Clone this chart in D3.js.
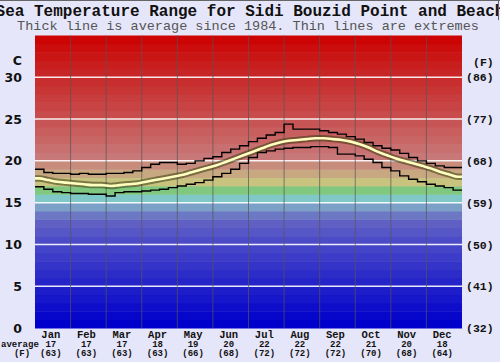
<!DOCTYPE html>
<html><head><meta charset="utf-8">
<script src="https://cdn.jsdelivr.net/npm/d3@7/dist/d3.min.js"></script>
<style>html,body{margin:0;padding:0;background:#e6e6fa;}svg{display:block}</style>
</head><body>
<svg id="chart" width="500" height="362"></svg>
<script>
const titleText = "Sea Temperature Range for Sidi Bouzid Point and Beach";
const subtitleText = "Thick line is average since 1984. Thin lines are extremes";
const months = ["Jan","Feb","Mar","Apr","May","Jun","Jul","Aug","Sep","Oct","Nov","Dec"];
const monthAvgC = [17,17,17,18,19,20,22,22,22,21,20,18];
const monthAvgF = [63,63,63,63,66,68,72,72,72,70,68,64];
const yTicksC = [0,5,10,15,20,25,30];
const yTicksF = [32,41,50,59,68,77,86];
// four values per month (quarter-month steps), degrees C
const maxT = [19.0,18.6,18.5,18.5, 18.4,18.5,18.4,18.4, 18.5,18.5,18.6,18.8,
              19.2,19.6,19.8,19.8, 19.6,19.7,20.0,20.3, 20.5,21.0,21.4,21.8,
              22.3,22.7,23.1,23.4, 24.4,23.8,23.8,23.8, 23.6,23.4,23.2,22.9,
              22.6,22.2,21.8,21.5, 21.3,20.9,20.4,20.0, 19.7,19.4,19.2,19.2];
const avgT = [17.9,17.7,17.5,17.4, 17.3,17.2,17.1,17.1, 17.0,17.1,17.2,17.3,
              17.5,17.7,17.9,18.1, 18.3,18.6,18.9,19.2, 19.5,19.9,20.3,20.7,
              21.1,21.5,21.9,22.2, 22.4,22.5,22.6,22.7, 22.7,22.6,22.5,22.3,
              22.0,21.6,21.1,20.7, 20.3,20.0,19.7,19.4, 19.1,18.7,18.4,18.1];
const minT = [16.9,16.6,16.3,16.2, 16.1,16.1,16.0,16.0, 15.8,16.2,16.3,16.3,
              16.4,16.5,16.6,16.8, 17.0,17.2,17.4,17.7, 18.1,18.5,19.0,19.7,
              20.4,21.0,21.2,21.4, 21.5,21.6,21.6,21.7, 21.7,21.6,20.8,20.8,
              20.6,20.2,19.8,19.2, 18.8,18.2,17.8,17.5, 17.2,17.0,16.8,16.5];

const svg = d3.select("#chart");
const W = 500, H = 362;
const x = d3.scaleLinear().domain([0,12]).range([35,462]);
const y = d3.scaleLinear().domain([0,35]).range([328,35.5]);
const perMonth = 4;

// colour scale for 1-degree bands
const bandColor = d3.scaleLinear()
  .domain([0,5,10,12,13,14,15,16,17,18,19,20,25,30,34])
  .range(["#0000cc","#2424c8","#4c4cc8","#6060c4","#6c78c4","#7ca0c8","#80c8c8","#80c880","#c8c480","#c8a880","#c88c7c","#c87878","#c84c4c","#c82626","#cc0404"]);

svg.append("rect").attr("width",W).attr("height",H).attr("fill","#e6e6fa");

// bands
svg.append("g").selectAll("rect").data(d3.range(0,35)).join("rect")
  .attr("x", x(0)).attr("width", x(12)-x(0))
  .attr("y", d => y(d+1)).attr("height", d => y(d)-y(d+1)+0.5)
  .attr("fill", d => bandColor(d));

// horizontal white grid
svg.append("g").selectAll("line").data(yTicksC.filter(d=>d>0)).join("line")
  .attr("x1", x(0)).attr("x2", x(12))
  .attr("y1", d => y(d)).attr("y2", d => y(d))
  .attr("stroke", "#ffffff").attr("stroke-width", 1.5).attr("stroke-opacity",0.9);

// vertical month separators
svg.append("g").selectAll("line").data(d3.range(1,12)).join("line")
  .attr("x1", d => x(d)).attr("x2", d => x(d))
  .attr("y1", y(35)).attr("y2", y(0))
  .attr("stroke", "#555555").attr("stroke-width", 1).attr("stroke-opacity",0.7);

// step lines for extremes
const stepPts = arr => arr.map((v,i)=>[i/perMonth, v]).concat([[12, arr[arr.length-1]]]);
const stepLine = d3.line().x(d=>x(d[0])).y(d=>y(d[1])).curve(d3.curveStepAfter);
[maxT, minT].forEach(arr => {
  svg.append("path").attr("d", stepLine(stepPts(arr)))
    .attr("fill","none").attr("stroke","#000").attr("stroke-width",1.4);
});

// average thick line
const avgPts = [[0, avgT[0]]].concat(avgT.map((v,i)=>[(i+0.5)/perMonth, v])).concat([[12, avgT[avgT.length-1]]]);
const avgLine = d3.line().x(d=>x(d[0])).y(d=>y(d[1])).curve(d3.curveMonotoneX);
svg.append("path").attr("d", avgLine(avgPts)).attr("fill","none")
  .attr("stroke","#3a3a10").attr("stroke-opacity",0.55).attr("stroke-width",6.5);
svg.append("path").attr("d", avgLine(avgPts)).attr("fill","none")
  .attr("stroke","#ffffc0").attr("stroke-width",2.6);

// left axis labels
const yAxisL = d3.axisLeft(y).tickValues(yTicksC).tickSize(0).tickPadding(0);
const gL = svg.append("g").attr("transform","translate(22,0)").call(yAxisL);
gL.select(".domain").remove();
gL.selectAll("text").attr("font-family","'DejaVu Sans', sans-serif").attr("font-size",12.5)
  .attr("font-weight","bold").attr("fill","#111").attr("text-anchor","end");
svg.append("text").attr("x",22).attr("y",61).attr("dy","0.32em").attr("text-anchor","end")
  .attr("font-family","'DejaVu Sans', sans-serif").attr("font-size",12.5).attr("font-weight","bold")
  .attr("fill","#111").text("C");

// right axis labels (F)
const yAxisR = d3.axisRight(y).tickValues(yTicksC).tickSize(0).tickPadding(0)
  .tickFormat((d,i) => "(" + yTicksF[i] + ")");
const gR = svg.append("g").attr("transform","translate(466,0)").call(yAxisR);
gR.select(".domain").remove();
gR.selectAll("text").attr("font-family","'Liberation Mono', monospace").attr("font-size",11.5)
  .attr("font-weight","bold").attr("fill","#111");
svg.append("text").attr("x",473).attr("y",62).attr("dy","0.32em")
  .attr("font-family","'Liberation Mono', monospace").attr("font-size",11.5).attr("font-weight","bold")
  .attr("fill","#111").text("(F)");

// bottom labels
const mono = "'Liberation Mono', monospace";
const bottom = svg.append("g");
bottom.selectAll("text.m").data(months).join("text").attr("class","m")
  .attr("x",(d,i)=>x(i+0.5)-2).attr("y",338).attr("text-anchor","middle")
  .attr("font-family",mono).attr("font-size",10.5).attr("font-weight","bold").attr("fill","#111").text(d=>d);
bottom.selectAll("text.c").data(monthAvgC).join("text").attr("class","c")
  .attr("x",(d,i)=>x(i+0.5)-2).attr("y",347).attr("text-anchor","middle")
  .attr("font-family",mono).attr("font-size",9).attr("font-weight","bold").attr("fill","#111").text(d=>d);
bottom.selectAll("text.f").data(monthAvgF).join("text").attr("class","f")
  .attr("x",(d,i)=>x(i+0.5)-2).attr("y",356).attr("text-anchor","middle")
  .attr("font-family",mono).attr("font-size",9).attr("font-weight","bold").attr("fill","#111").text(d=>"("+d+")");
bottom.append("text").attr("x",1).attr("y",347).attr("font-family",mono).attr("font-size",9)
  .attr("font-weight","bold").attr("fill","#111").text("average");
bottom.append("text").attr("x",22).attr("y",356).attr("text-anchor","middle").attr("font-family",mono).attr("font-size",9)
  .attr("font-weight","bold").attr("fill","#111").text("(F)");

// titles
svg.append("text").attr("x",250).attr("y",16).attr("text-anchor","middle")
  .attr("font-family",mono).attr("font-size",16).attr("font-weight","bold").attr("fill","#111").text(titleText);
svg.append("text").attr("x",248).attr("y",30).attr("text-anchor","middle")
  .attr("font-family",mono).attr("font-size",13.5).attr("fill","#555").text(subtitleText);

// frame
svg.append("line").attr("x1",0).attr("x2",W).attr("y1",0.5).attr("y2",0.5).attr("stroke","#666");
svg.append("line").attr("x1",498.5).attr("x2",498.5).attr("y1",0).attr("y2",20).attr("stroke","#666");
</script>
</body></html>
